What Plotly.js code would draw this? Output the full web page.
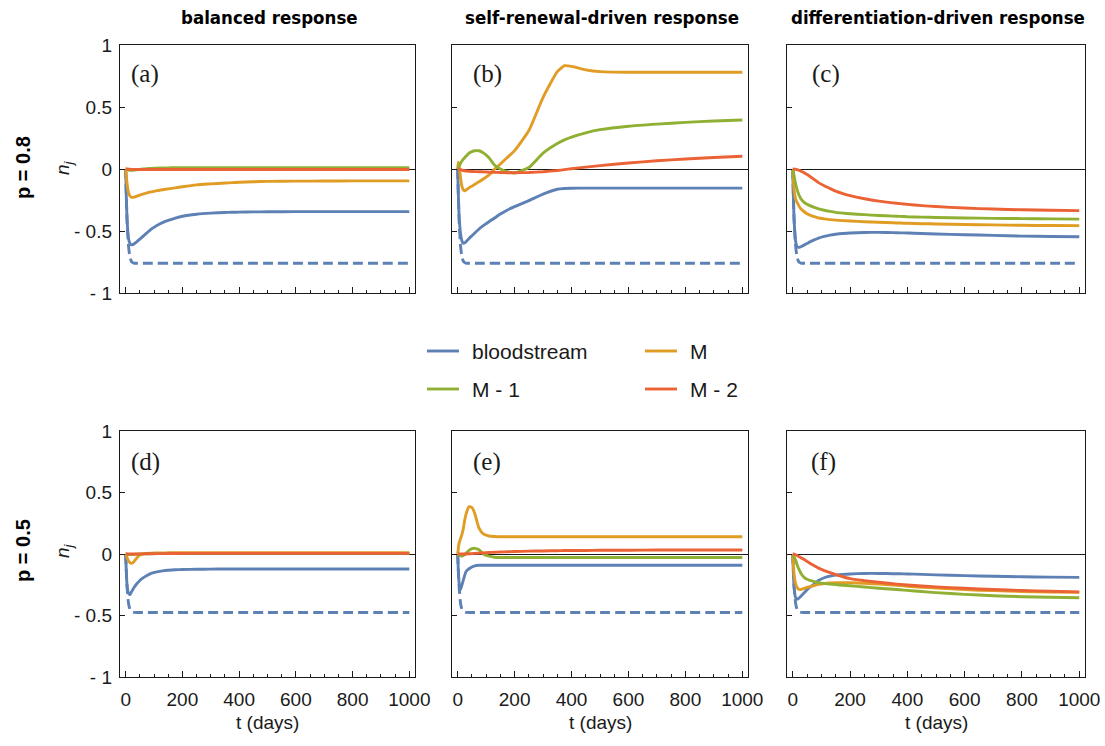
<!DOCTYPE html>
<html>
<head>
<meta charset="utf-8">
<script src="https://cdn.plot.ly/plotly-3.0.1.min.js"></script>
<style>
  html, body { margin: 0; padding: 0; background: #ffffff; }
  #chart { width: 1105px; height: 746px; }
</style>
</head>
<body>
<div id="chart"></div>
<script>
// Time samples (days) shared by every curve
const tDays = [0, 2, 5, 10, 15, 20, 25, 30, 40, 50, 60, 75, 90, 110, 130, 150, 175, 200,
               250, 300, 350, 375, 400, 450, 500, 600, 700, 800, 900, 1000];

// Dashed bloodstream reference, p = 0.8 and p = 0.5
const dashP08 = [0, -0.2, -0.42, -0.62, -0.71, -0.745, -0.755, -0.76, -0.76, -0.76, -0.76, -0.76, -0.76, -0.76, -0.76,
                 -0.76, -0.76, -0.76, -0.76, -0.76, -0.76, -0.76, -0.76, -0.76, -0.76, -0.76, -0.76, -0.76, -0.76, -0.76];
const dashP05 = [0, -0.12, -0.27, -0.4, -0.45, -0.465, -0.472, -0.475, -0.476, -0.476, -0.476, -0.476, -0.476, -0.476, -0.476,
                 -0.476, -0.476, -0.476, -0.476, -0.476, -0.476, -0.476, -0.476, -0.476, -0.476, -0.476, -0.476, -0.476, -0.476, -0.476];

// (a) balanced response, p = 0.8
const aBlood = [0, -0.2, -0.41, -0.56, -0.6, -0.612, -0.61, -0.603, -0.585, -0.565, -0.545, -0.515, -0.485, -0.455, -0.432,
                -0.415, -0.396, -0.381, -0.365, -0.356, -0.351, -0.349, -0.348, -0.346, -0.345, -0.344, -0.344, -0.344, -0.344, -0.344];
const aM     = [0, -0.05, -0.12, -0.19, -0.218, -0.228, -0.229, -0.226, -0.218, -0.21, -0.203, -0.193, -0.185, -0.175, -0.167,
                -0.16, -0.152, -0.143, -0.128, -0.12, -0.113, -0.11, -0.107, -0.103, -0.1, -0.098, -0.097, -0.096, -0.096, -0.096];
const aM1    = [0, 0, -0.004, -0.008, -0.01, -0.011, -0.01, -0.009, -0.006, -0.003, 0, 0.003, 0.005, 0.007, 0.008,
                0.009, 0.01, 0.01, 0.01, 0.01, 0.01, 0.01, 0.01, 0.01, 0.01, 0.01, 0.01, 0.01, 0.01, 0.01];
const aM2    = [0, 0, 0, -0.001, -0.002, -0.003, -0.003, -0.004, -0.004, -0.004, -0.004, -0.004, -0.004, -0.004, -0.004,
                -0.004, -0.004, -0.004, -0.004, -0.004, -0.004, -0.004, -0.004, -0.004, -0.004, -0.004, -0.004, -0.004, -0.004, -0.004];

// (b) self-renewal-driven response, p = 0.8
const bBlood = [0, -0.18, -0.38, -0.52, -0.58, -0.6, -0.595, -0.585, -0.56, -0.538, -0.516, -0.484, -0.457, -0.425, -0.395,
                -0.363, -0.33, -0.304, -0.255, -0.202, -0.163, -0.157, -0.155, -0.154, -0.154, -0.154, -0.154, -0.154, -0.154, -0.154];
const bM     = [0, 0.055, 0.03, -0.07, -0.14, -0.17, -0.175, -0.168, -0.152, -0.138, -0.124, -0.102, -0.081, -0.048, 0.0,
                0.04, 0.094, 0.148, 0.31, 0.578, 0.785, 0.833, 0.828, 0.8, 0.785, 0.78, 0.78, 0.78, 0.78, 0.78];
const bM1    = [0, 0.01, 0.025, 0.045, 0.065, 0.08, 0.093, 0.105, 0.128, 0.14, 0.147, 0.147, 0.13, 0.09, 0.03,
                0.0, -0.022, -0.032, 0.012, 0.128, 0.205, 0.235, 0.258, 0.292, 0.317, 0.345, 0.362, 0.376, 0.387, 0.395];
const bM2    = [0, 0, -0.003, -0.006, -0.009, -0.012, -0.014, -0.016, -0.018, -0.02, -0.021, -0.022, -0.023, -0.025, -0.027,
                -0.028, -0.03, -0.03, -0.028, -0.022, -0.012, -0.005, 0.002, 0.015, 0.027, 0.048, 0.066, 0.081, 0.093, 0.103];

// (c) differentiation-driven response, p = 0.8
const cBlood = [0, -0.2, -0.42, -0.58, -0.625, -0.632, -0.63, -0.625, -0.613, -0.601, -0.588, -0.572, -0.557, -0.543, -0.533,
                -0.526, -0.52, -0.516, -0.512, -0.511, -0.513, -0.515, -0.516, -0.52, -0.524, -0.53, -0.535, -0.541, -0.544, -0.546];
const cM     = [0, -0.08, -0.17, -0.24, -0.27, -0.29, -0.31, -0.325, -0.345, -0.36, -0.372, -0.385, -0.395, -0.402, -0.408,
                -0.412, -0.416, -0.419, -0.425, -0.43, -0.434, -0.436, -0.438, -0.441, -0.443, -0.447, -0.451, -0.454, -0.456, -0.457];
const cM1    = [0, -0.02, -0.06, -0.12, -0.165, -0.2, -0.225, -0.245, -0.27, -0.285, -0.296, -0.31, -0.322, -0.333, -0.342,
                -0.35, -0.356, -0.361, -0.368, -0.375, -0.38, -0.382, -0.385, -0.388, -0.391, -0.395, -0.398, -0.4, -0.402, -0.404];
const cM2    = [0, 0, -0.001, -0.002, -0.005, -0.009, -0.013, -0.018, -0.03, -0.045, -0.06, -0.085, -0.11, -0.135, -0.157,
                -0.178, -0.198, -0.215, -0.24, -0.259, -0.273, -0.279, -0.285, -0.295, -0.303, -0.315, -0.323, -0.329, -0.333, -0.336];

// (d) balanced response, p = 0.5
const dBlood = [0, -0.13, -0.26, -0.32, -0.33, -0.31, -0.29, -0.27, -0.24, -0.215, -0.196, -0.175, -0.158, -0.145, -0.137,
                -0.132, -0.128, -0.126, -0.124, -0.123, -0.122, -0.122, -0.122, -0.122, -0.122, -0.122, -0.122, -0.122, -0.122, -0.122];
const dM     = [0, -0.01, -0.03, -0.055, -0.07, -0.076, -0.072, -0.06, -0.03, -0.008, 0.0, 0.005, 0.007, 0.008, 0.009,
                0.01, 0.01, 0.01, 0.01, 0.01, 0.01, 0.01, 0.01, 0.01, 0.01, 0.01, 0.01, 0.01, 0.01, 0.01];
const dM1    = [0, 0, -0.002, -0.004, -0.005, -0.005, -0.004, -0.003, -0.001, 0, 0.001, 0.002, 0.003, 0.004, 0.005,
                0.005, 0.005, 0.005, 0.005, 0.005, 0.005, 0.005, 0.005, 0.005, 0.005, 0.005, 0.005, 0.005, 0.005, 0.005];
const dM2    = [0, 0, 0, 0, 0, 0, 0, 0, 0, 0.001, 0.001, 0.002, 0.002, 0.003, 0.003,
                0.004, 0.004, 0.005, 0.005, 0.005, 0.005, 0.005, 0.005, 0.005, 0.005, 0.005, 0.005, 0.005, 0.005, 0.005];

// (e) self-renewal-driven response, p = 0.5
const eBlood = [0, -0.12, -0.24, -0.29, -0.25, -0.21, -0.17, -0.14, -0.12, -0.105, -0.096, -0.092, -0.091, -0.091, -0.091,
                -0.091, -0.091, -0.091, -0.091, -0.091, -0.091, -0.091, -0.091, -0.091, -0.091, -0.092, -0.092, -0.092, -0.092, -0.092];
const eM     = [0, 0.04, 0.09, 0.125, 0.16, 0.21, 0.28, 0.33, 0.385, 0.378, 0.33, 0.21, 0.163, 0.146, 0.142,
                0.14, 0.14, 0.14, 0.14, 0.14, 0.14, 0.14, 0.14, 0.14, 0.14, 0.14, 0.14, 0.14, 0.14, 0.14];
const eM1    = [0, -0.005, -0.01, -0.015, -0.016, -0.012, -0.004, 0.008, 0.03, 0.043, 0.046, 0.035, 0.0, -0.018, -0.026,
                -0.028, -0.028, -0.028, -0.028, -0.028, -0.028, -0.028, -0.028, -0.028, -0.028, -0.028, -0.028, -0.028, -0.028, -0.028];
const eM2    = [0, 0, 0, 0, 0, 0, 0, 0, 0.002, 0.003, 0.005, 0.007, 0.009, 0.012, 0.014,
                0.016, 0.018, 0.02, 0.023, 0.025, 0.027, 0.028, 0.028, 0.029, 0.03, 0.031, 0.032, 0.033, 0.033, 0.033];

// (f) differentiation-driven response, p = 0.5
const fBlood = [0, -0.14, -0.28, -0.355, -0.368, -0.362, -0.352, -0.34, -0.315, -0.29, -0.27, -0.245, -0.215, -0.193, -0.18,
                -0.172, -0.166, -0.162, -0.158, -0.158, -0.16, -0.161, -0.162, -0.166, -0.17, -0.176, -0.181, -0.185, -0.188, -0.19];
const fM     = [0, -0.08, -0.17, -0.24, -0.27, -0.285, -0.29, -0.288, -0.28, -0.272, -0.266, -0.256, -0.247, -0.24, -0.236,
                -0.234, -0.233, -0.233, -0.238, -0.245, -0.253, -0.257, -0.262, -0.27, -0.277, -0.29, -0.298, -0.305, -0.309, -0.312];
const fM1    = [0, -0.01, -0.025, -0.05, -0.085, -0.116, -0.14, -0.163, -0.19, -0.206, -0.215, -0.225, -0.233, -0.24, -0.245,
                -0.249, -0.254, -0.258, -0.268, -0.278, -0.287, -0.291, -0.296, -0.305, -0.314, -0.328, -0.339, -0.347, -0.352, -0.356];
const fM2    = [0, 0, -0.002, -0.006, -0.012, -0.018, -0.025, -0.032, -0.045, -0.06, -0.075, -0.095, -0.115, -0.135, -0.152,
                -0.168, -0.185, -0.2, -0.216, -0.23, -0.242, -0.247, -0.252, -0.26, -0.267, -0.279, -0.289, -0.297, -0.303, -0.308];

// Labels
const seriesNames   = ['bloodstream', 'M', 'M - 1', 'M - 2'];
const columnTitles  = ['balanced response', 'self-renewal-driven response', 'differentiation-driven response'];
const rowLabels     = ['p = 0.8', 'p = 0.5'];
const panelLetters  = ['(a)', '(b)', '(c)', '(d)', '(e)', '(f)'];
const yTickVals     = [-1, -0.5, 0, 0.5, 1];
const yTickText     = ['- 1', '- 0.5', '0', '0.5', '1'];
const xAxisTitle    = 't (days)';

// ---------- styling & geometry ----------
const W = 1105, H = 746;
const colors = ['#5E81B5', '#E19C24', '#8FB032', '#EB6235'];
const ink = '#1a1a1a';
const sansFont = 'Liberation Sans, Arial, Helvetica, sans-serif';
const colPx = [[120, 415], [452, 748], [787, 1085]];
const rowPx = [[45, 293], [431, 677]];
const letterDx = [9, 19, 23, 9, 19, 22];
const lineW = 2.9;
const smooth = 0.5;
const px = x => x / W;
const py = y => 1 - y / H;

const panelSeries = [
  [dashP08, aBlood, aM, aM1, aM2],
  [dashP08, bBlood, bM, bM1, bM2],
  [dashP08, cBlood, cM, cM1, cM2],
  [dashP05, dBlood, dM, dM1, dM2],
  [dashP05, eBlood, eM, eM1, eM2],
  [dashP05, fBlood, fM, fM1, fM2]
];

const traces = [];
const layout = {
  width: W, height: H,
  margin: { l: 0, r: 0, t: 0, b: 0 },
  paper_bgcolor: '#ffffff', plot_bgcolor: '#ffffff',
  showlegend: false,
  font: { family: sansFont, size: 19, color: ink },
  annotations: [], shapes: []
};

panelSeries.forEach((series, i) => {
  const row = Math.floor(i / 3), col = i % 3;
  const s = i === 0 ? '' : String(i + 1);
  const xa = 'x' + s, ya = 'y' + s;

  // dashed reference first, then the four compartments
  traces.push({
    x: tDays, y: series[0], xaxis: xa, yaxis: ya, type: 'scatter', mode: 'lines',
    line: { color: colors[0], width: lineW, dash: '10px,5px', shape: 'spline', smoothing: smooth },
    hoverinfo: 'skip'
  });
  for (let k = 1; k < 5; k++) {
    traces.push({
      x: tDays, y: series[k], xaxis: xa, yaxis: ya, type: 'scatter', mode: 'lines',
      name: seriesNames[k - 1],
      line: { color: colors[k - 1], width: lineW, shape: 'spline', smoothing: smooth },
      hoverinfo: 'skip'
    });
  }

  layout['xaxis' + s] = {
    domain: [px(colPx[col][0]), px(colPx[col][1])],
    anchor: ya, range: [-20, 1020],
    showline: true, mirror: true, linecolor: ink, linewidth: 1.2,
    showgrid: false, zeroline: false,
    ticks: 'inside', ticklen: 6, tickwidth: 1, tickcolor: ink,
    tick0: 0, dtick: 200,
    minor: { ticks: 'inside', ticklen: 3.5, tickwidth: 1, tickcolor: ink, dtick: 50, tick0: 0, showgrid: false },
    showticklabels: row === 1,
    ticklabelstandoff: 5,
    tickfont: { family: sansFont, size: 19, color: ink }
  };
  layout['yaxis' + s] = {
    domain: [py(rowPx[row][1]), py(rowPx[row][0])],
    anchor: xa, range: [-1, 1],
    showline: true, mirror: true, linecolor: ink, linewidth: 1.2,
    showgrid: false,
    zeroline: true, zerolinecolor: ink, zerolinewidth: 1,
    ticks: 'inside', ticklen: 5, tickwidth: 1, tickcolor: ink,
    tickmode: 'array', tickvals: yTickVals, ticktext: yTickText,
    showticklabels: col === 0,
    ticklabelstandoff: 3,
    tickfont: { family: sansFont, size: 19, color: ink }
  };

  // panel letter
  layout.annotations.push({
    xref: 'paper', yref: 'paper',
    x: px(colPx[col][0] + letterDx[i]), y: py(row === 0 ? 74 : 462),
    xanchor: 'left', yanchor: 'middle', showarrow: false,
    text: panelLetters[i],
    font: { family: 'Liberation Serif, Times New Roman, serif', size: 25, color: ink }
  });

  // x-axis title under the bottom row
  if (row === 1) {
    layout.annotations.push({
      xref: 'paper', yref: 'paper',
      x: px((colPx[col][0] + colPx[col][1]) / 2), y: py(722),
      xanchor: 'center', yanchor: 'middle', showarrow: false,
      text: xAxisTitle, font: { family: sansFont, size: 19, color: ink }
    });
  }
});

// column headings
columnTitles.forEach((t, c) => {
  layout.annotations.push({
    xref: 'paper', yref: 'paper',
    x: px((colPx[c][0] + colPx[c][1]) / 2 + 2), y: py(17),
    xanchor: 'center', yanchor: 'middle', showarrow: false,
    text: '<b>' + t + '</b>',
    font: { family: 'DejaVu Sans Condensed, DejaVu Sans, sans-serif', size: 18.5, color: '#000' }
  });
});

// row labels and y-axis symbol
rowLabels.forEach((t, r) => {
  const yc = r === 0 ? 168 : 551;
  layout.annotations.push({
    xref: 'paper', yref: 'paper', x: px(23), y: py(yc),
    xanchor: 'center', yanchor: 'middle', showarrow: false, textangle: -90,
    text: '<b>' + t + '</b>', font: { family: sansFont, size: 20, color: '#000' }
  });
  layout.annotations.push({
    xref: 'paper', yref: 'paper', x: px(64), y: py(yc),
    xanchor: 'center', yanchor: 'middle', showarrow: false, textangle: -90,
    text: '<i>n<sub>j</sub></i>', font: { family: sansFont, size: 19, color: ink }
  });
});

// legend (two columns between the rows)
const legendSlots = [[427, 351], [645, 351], [427, 389], [645, 389]];
seriesNames.forEach((name, k) => {
  const [lx, ly] = legendSlots[k];
  layout.shapes.push({
    type: 'line', xref: 'paper', yref: 'paper',
    x0: px(lx), x1: px(lx + 32), y0: py(ly), y1: py(ly),
    line: { color: colors[k], width: lineW }
  });
  layout.annotations.push({
    xref: 'paper', yref: 'paper', x: px(lx + 43), y: py(ly),
    xanchor: 'left', yanchor: 'middle', showarrow: false,
    text: name, font: { family: sansFont, size: 21, color: ink }
  });
});

Plotly.newPlot('chart', traces, layout, { staticPlot: true, displayModeBar: false });
</script>
</body>
</html>
